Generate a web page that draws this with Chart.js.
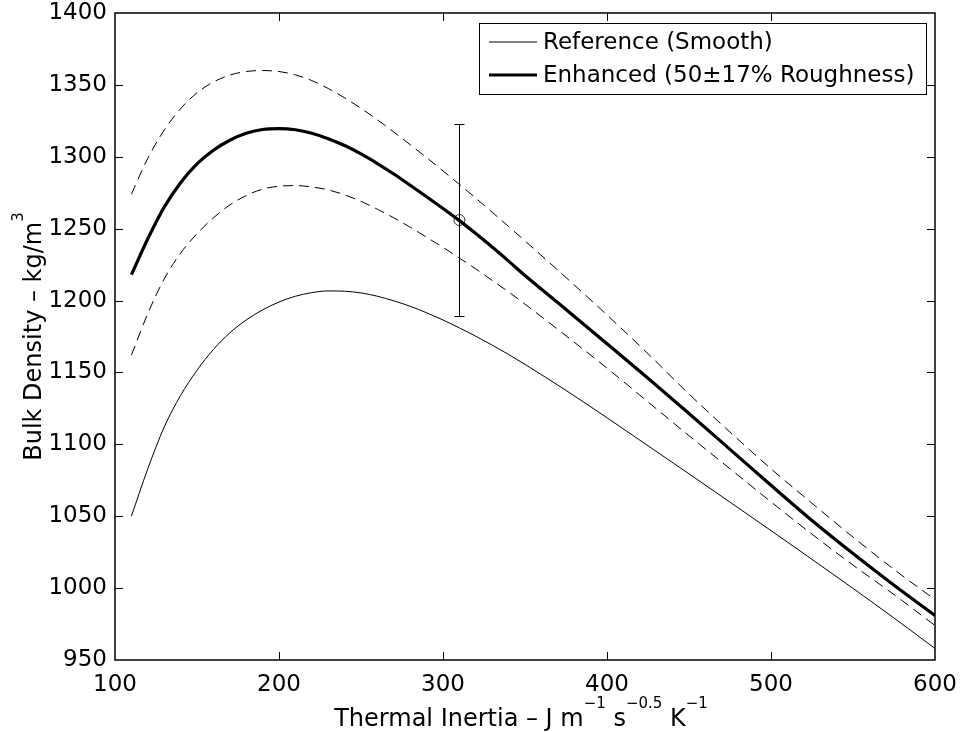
<!DOCTYPE html>
<html>
<head>
<meta charset="utf-8">
<title>Bulk density vs thermal inertia</title>
<script src="https://cdn.jsdelivr.net/npm/chart.js@4.4.1/dist/chart.umd.min.js"></script>
<style>
  html, body { margin: 0; padding: 0; background: #fff; overflow: hidden; }
  #wrap { width: 960px; height: 732px; }
</style>
</head>
<body>
<div id="wrap"><canvas id="chart" width="960" height="732"></canvas></div>
<script>
// values
const thermalInertia = [110, 120, 130, 140, 150, 160, 170, 180, 190, 200, 210, 220, 230, 240, 250,
  260, 270, 280, 290, 300, 310, 320, 330, 340, 350, 375, 400, 425, 450, 475, 500, 525, 550, 575, 600];

const referenceSmooth = [1050, 1083, 1112, 1134, 1151.5, 1166, 1177.5, 1186.5, 1193.5, 1199, 1203, 1205.5, 1206.7, 1206.5, 1205.3,
  1203, 1199.8, 1196, 1191.5, 1186.5, 1181, 1175.2, 1169, 1162.5, 1155.6, 1137.5, 1118.5, 1099, 1079.5, 1059.8, 1040, 1020, 999.8, 979.2, 958];

const enhancedRough = [1218, 1243, 1265, 1282, 1295, 1304.5, 1311.5, 1316.3, 1319, 1319.6, 1318.8, 1316.4, 1312.6, 1307.8, 1302,
  1295.3, 1288, 1280.2, 1272.2, 1264, 1255.6, 1246.6, 1237.2, 1227.4, 1217.4, 1193.8, 1170, 1146, 1121.5, 1096.5, 1071.5, 1047, 1024, 1002, 981];

const enhancedUpper = [1274, 1299, 1318.5, 1333.5, 1344.5, 1352, 1356.8, 1359.3, 1360, 1359.3, 1357, 1353, 1347.5, 1341, 1333.7,
  1325.7, 1317.2, 1308.4, 1299.4, 1290.2, 1280.8, 1271.2, 1261.4, 1251.5, 1241.5, 1216, 1190, 1163, 1135, 1108.5, 1083, 1059, 1035.5, 1013, 992];

const enhancedLower = [1162, 1191, 1215, 1233, 1246.5, 1257.5, 1266.5, 1273, 1277.5, 1279.5, 1280, 1279, 1277, 1273.5, 1269,
  1263.5, 1257.5, 1251, 1244, 1237, 1229.5, 1222, 1214, 1206, 1197.5, 1175.5, 1153, 1129.5, 1106, 1083, 1060, 1037.5, 1016, 995.5, 974];

// measured point with its error bar
const errorX = [310];
const errorY = [1256];
const errorLow = [1189];
const errorHigh = [1323];

const xTickValues = [100, 200, 300, 400, 500, 600];
const yTickValues = [950, 1000, 1050, 1100, 1150, 1200, 1250, 1300, 1350, 1400];

const FONT = 'DejaVu Sans';

function pairs(xs, ys) {
  return xs.map((x, i) => ({ x: x, y: ys[i] }));
}

// MATLAB style box, inward ticks, error bar and legend
const matlabFrame = {
  id: 'matlabFrame',
  afterDatasetsDraw(chart) {
    const ctx = chart.ctx;
    const a = chart.chartArea;
    const xs = chart.scales.x, ys = chart.scales.y;
    ctx.save();

    // error bar
    ctx.strokeStyle = '#000';
    ctx.lineWidth = 1;
    errorX.forEach((ex, i) => {
      const px = Math.round(xs.getPixelForValue(ex)) + 0.5;
      const top = Math.round(ys.getPixelForValue(errorHigh[i])) + 0.5;
      const bot = Math.round(ys.getPixelForValue(errorLow[i])) + 0.5;
      ctx.beginPath();
      ctx.moveTo(px, top); ctx.lineTo(px, bot);
      ctx.moveTo(px - 5, top); ctx.lineTo(px + 5, top);
      ctx.moveTo(px - 5, bot); ctx.lineTo(px + 5, bot);
      ctx.stroke();
    });

    // inward ticks
    ctx.beginPath();
    xs.ticks.forEach(t => {
      const px = Math.round(xs.getPixelForValue(t.value)) + 0.5;
      if (px <= a.left + 1 || px >= a.right - 1) return;
      ctx.moveTo(px, a.bottom); ctx.lineTo(px, a.bottom - 8);
      ctx.moveTo(px, a.top); ctx.lineTo(px, a.top + 8);
    });
    ys.ticks.forEach(t => {
      const py = Math.round(ys.getPixelForValue(t.value)) + 0.5;
      if (py <= a.top + 1 || py >= a.bottom - 1) return;
      ctx.moveTo(a.left, py); ctx.lineTo(a.left + 8, py);
      ctx.moveTo(a.right, py); ctx.lineTo(a.right - 8, py);
    });
    ctx.stroke();

    // axes box
    ctx.lineWidth = 1.5;
    ctx.strokeRect(a.left, a.top, a.right - a.left, a.bottom - a.top);

    // legend box
    const lx = a.right - 456, ly = a.top + 10, lw = 447, lh = 71;
    ctx.fillStyle = '#fff';
    ctx.fillRect(lx, ly, lw, lh);
    ctx.lineWidth = 1;
    ctx.strokeRect(lx + 0.5, ly + 0.5, lw, lh);
    const items = chart.data.datasets.filter(d => d.inLegend);
    ctx.font = '23px "' + FONT + '"';
    ctx.textBaseline = 'middle';
    ctx.textAlign = 'left';
    items.forEach((d, i) => {
      const cy = ly + 19 + i * 33;
      ctx.strokeStyle = d.borderColor;
      ctx.lineWidth = d.borderWidth;
      ctx.beginPath();
      ctx.moveTo(lx + 10, cy); ctx.lineTo(lx + 58, cy);
      ctx.stroke();
      ctx.fillStyle = '#000';
      ctx.fillText(d.label, lx + 64, cy + 1);
    });
    ctx.restore();
  },
  afterDraw(chart) {
    const ctx = chart.ctx;
    const a = chart.chartArea;
    ctx.save();
    ctx.fillStyle = '#000';
    ctx.textBaseline = 'alphabetic';
    ctx.textAlign = 'left';

    const xTitle = [
      { t: 'Thermal Inertia \u2013 J m' }, { t: '\u22121', sup: true },
      { t: ' s' }, { t: '\u22120.5', sup: true },
      { t: ' K' }, { t: '\u22121', sup: true }
    ];
    const yTitle = [
      { t: 'Bulk Density \u2013 kg/m' }, { t: '3', sup: true }
    ];

    function rich(parts, cx, baseY) {
      let w = 0;
      parts.forEach(p => {
        ctx.font = (p.sup ? '15px "' : '24px "') + FONT + '"';
        p.w = ctx.measureText(p.t).width;
        w += p.w;
      });
      let x = cx - w / 2;
      parts.forEach(p => {
        ctx.font = (p.sup ? '15px "' : '24px "') + FONT + '"';
        ctx.fillText(p.t, x, p.sup ? baseY - 18 : baseY);
        x += p.w;
      });
    }

    rich(xTitle, (a.left + a.right) / 2 - 4, 726);

    ctx.translate(41, (a.top + a.bottom) / 2);
    ctx.rotate(-Math.PI / 2);
    rich(yTitle, 0, 0);
    ctx.restore();
  }
};

const tickFont = { family: FONT, size: 23 };

new Chart(document.getElementById('chart'), {
  type: 'line',
  data: {
    datasets: [
      {
        label: 'Reference (Smooth)',
        data: pairs(thermalInertia, referenceSmooth),
        borderColor: '#000', borderWidth: 1, inLegend: true
      },
      {
        label: 'Enhanced (50\u00b117% Roughness)',
        data: pairs(thermalInertia, enhancedRough),
        borderColor: '#000', borderWidth: 3.2, inLegend: true
      },
      {
        label: 'upper bound',
        data: pairs(thermalInertia, enhancedUpper),
        borderColor: '#000', borderWidth: 1, borderDash: [10, 6]
      },
      {
        label: 'lower bound',
        data: pairs(thermalInertia, enhancedLower),
        borderColor: '#000', borderWidth: 1, borderDash: [10, 6]
      },
      {
        type: 'scatter',
        label: 'measured',
        data: pairs(errorX, errorY),
        borderColor: '#333', backgroundColor: 'rgba(0,0,0,0)',
        borderWidth: 1, pointRadius: 5.5, pointStyle: 'circle', showLine: false
      }
    ]
  },
  options: {
    responsive: false,
    animation: false,
    devicePixelRatio: 1,
    cubicInterpolationMode: 'monotone',
    elements: { point: { radius: 0 } },
    layout: { padding: { left: 0, right: 25, top: 13, bottom: 0 } },
    plugins: { legend: { display: false }, tooltip: { enabled: false } },
    scales: {
      x: {
        type: 'linear', position: 'bottom', min: 100, max: 600,
        grid: { display: false, drawTicks: false },
        border: { display: false },
        ticks: { font: tickFont, color: '#000', padding: 11, maxRotation: 0, autoSkip: false,
          callback: v => String(v) },
        afterBuildTicks: s => { s.ticks = xTickValues.map(v => ({ value: v })); },
        afterFit: s => { s.height = 72; s.paddingLeft = 0; s.paddingRight = 0; }
      },
      y: {
        type: 'linear', position: 'left', min: 950, max: 1400,
        grid: { display: false, drawTicks: false },
        border: { display: false },
        ticks: { font: tickFont, color: '#000', padding: 8, autoSkip: false,
          callback: v => String(v) },
        afterBuildTicks: s => { s.ticks = yTickValues.map(v => ({ value: v })); },
        afterFit: s => { s.width = 115; s.paddingTop = 0; s.paddingBottom = 0; }
      }
    }
  },
  plugins: [matlabFrame]
});
</script>
</body>
</html>
